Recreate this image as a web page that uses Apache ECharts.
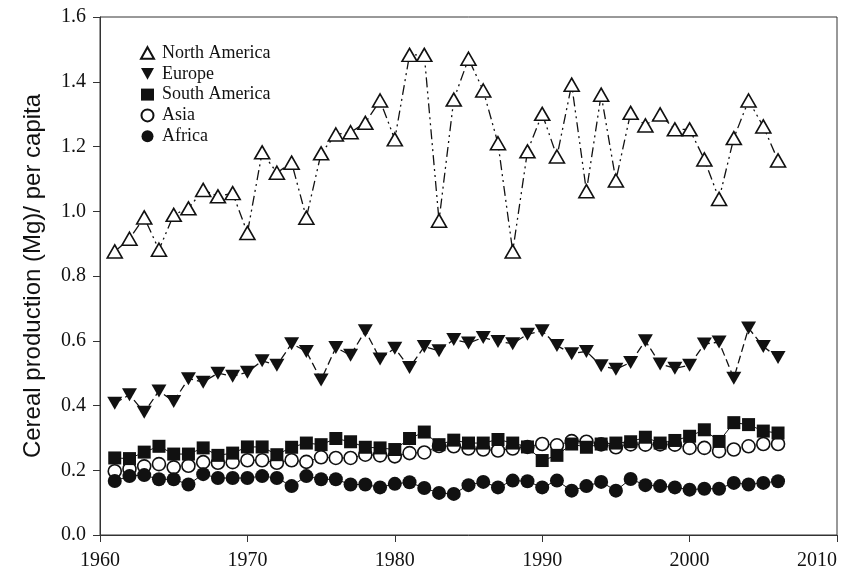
<!DOCTYPE html>
<html>
<head>
<meta charset="utf-8">
<title>Cereal production per capita</title>
<script src="https://cdn.jsdelivr.net/npm/echarts@6/dist/echarts.min.js"></script>
<style>
  html, body { margin: 0; padding: 0; background: #fff; }
  #chart { width: 858px; height: 571px; }
</style>
</head>
<body>
<div id="chart"></div>
<script>
// Years 1961-2006
var years = [];
for (var y = 1961; y <= 2006; y++) years.push(y);

// Cereal production per capita (Mg), by region
var northAmerica = [
  0.876, 0.915, 0.981, 0.881, 0.989, 1.009, 1.066, 1.046, 1.056, 0.933,
  1.182, 1.119, 1.150, 0.980, 1.179, 1.237, 1.244, 1.273, 1.342, 1.222,
  1.483, 1.483, 0.971, 1.345, 1.471, 1.373, 1.210, 0.876, 1.185, 1.301,
  1.169, 1.391, 1.062, 1.360, 1.095, 1.304, 1.265, 1.299, 1.253, 1.253,
  1.160, 1.038, 1.226, 1.342, 1.262, 1.157
];
var europe = [
  0.407, 0.433, 0.379, 0.445, 0.412, 0.483, 0.472, 0.500, 0.490, 0.503,
  0.538, 0.524, 0.591, 0.567, 0.479, 0.579, 0.555, 0.631, 0.544, 0.577,
  0.517, 0.582, 0.569, 0.604, 0.593, 0.610, 0.598, 0.591, 0.620, 0.631,
  0.585, 0.560, 0.567, 0.523, 0.512, 0.533, 0.600, 0.528, 0.515, 0.524,
  0.590, 0.596, 0.484, 0.639, 0.582, 0.548
];
var southAmerica = [
  0.238, 0.236, 0.256, 0.274, 0.250, 0.250, 0.269, 0.246, 0.253, 0.272,
  0.272, 0.248, 0.271, 0.284, 0.279, 0.298, 0.288, 0.271, 0.269, 0.264,
  0.298, 0.318, 0.279, 0.293, 0.284, 0.284, 0.295, 0.284, 0.272, 0.230,
  0.246, 0.281, 0.271, 0.281, 0.284, 0.288, 0.302, 0.284, 0.292, 0.305,
  0.325, 0.289, 0.347, 0.341, 0.321, 0.315
];
var asia = [
  0.197, 0.204, 0.212, 0.219, 0.209, 0.214, 0.225, 0.223, 0.225, 0.231,
  0.231, 0.223, 0.231, 0.226, 0.240, 0.238, 0.238, 0.248, 0.246, 0.243,
  0.253, 0.255, 0.275, 0.274, 0.267, 0.264, 0.261, 0.267, 0.272, 0.281,
  0.277, 0.290, 0.288, 0.280, 0.271, 0.280, 0.279, 0.280, 0.279, 0.269,
  0.269, 0.259, 0.264, 0.274, 0.281, 0.281
];
var africa = [
  0.167, 0.182, 0.185, 0.172, 0.172, 0.156, 0.188, 0.176, 0.176, 0.176,
  0.182, 0.176, 0.151, 0.182, 0.172, 0.172, 0.156, 0.156, 0.147, 0.158,
  0.163, 0.145, 0.130, 0.127, 0.154, 0.164, 0.147, 0.168, 0.166, 0.147,
  0.168, 0.137, 0.151, 0.164, 0.137, 0.173, 0.154, 0.151, 0.147, 0.140,
  0.143, 0.143, 0.161, 0.156, 0.161, 0.166
];

var yTicks = { min: 0, max: 1.6, interval: 0.2 };
var xTicks = { min: 1960, max: 2010, interval: 10 };

function pairs(values) {
  return years.map(function (yr, i) { return [yr, values[i]]; });
}

var INK = '#111';
var UP_TRI = 'path://M5,0 L10,9 L0,9 Z';
var DOWN_TRI = 'path://M0,0 L10,0 L5,9 Z';
var serif = '"Liberation Serif", "Times New Roman", serif';

var chart = echarts.init(document.getElementById('chart'), null, { renderer: 'canvas' });

chart.setOption({
  animation: false,
  backgroundColor: '#fff',
  grid: {
    left: 100, right: 21, top: 17, bottom: 36,
    outerBoundsMode: 'none',
    containLabel: false,
    show: true, borderColor: '#333', borderWidth: 1, backgroundColor: 'transparent'
  },
  legend: {
    orient: 'vertical',
    left: 135, top: 39,
    itemWidth: 13, itemHeight: 12,
    itemGap: 2.8,
    textStyle: { fontFamily: serif, fontSize: 18, color: INK, padding: [0, 0, 0, 3] },
    data: [
      { name: 'North America', icon: UP_TRI },
      { name: 'Europe', icon: DOWN_TRI },
      { name: 'South America', icon: 'rect' },
      { name: 'Asia', icon: 'circle' },
      { name: 'Africa', icon: 'circle' }
    ]
  },
  xAxis: {
    type: 'value',
    min: xTicks.min, max: xTicks.max, interval: xTicks.interval,
    axisLine: { lineStyle: { color: '#333', width: 1 } },
    axisTick: { inside: false, length: 7, lineStyle: { color: '#333' } },
    axisLabel: {
      fontFamily: serif, fontSize: 20, color: INK, margin: 16,
      alignMaxLabel: 'right',
      formatter: function (v) { return String(v); }
    },
    splitLine: { show: false }
  },
  yAxis: {
    type: 'value',
    min: yTicks.min, max: yTicks.max, interval: yTicks.interval,
    name: 'Cereal production (Mg)/ per capita',
    nameLocation: 'middle',
    nameGap: 55,
    nameTextStyle: { fontFamily: '"Liberation Sans", Arial, sans-serif', fontSize: 24, color: INK },
    axisLine: { lineStyle: { color: '#333', width: 1 } },
    axisTick: { inside: false, length: 7, lineStyle: { color: '#333' } },
    axisLabel: {
      fontFamily: serif, fontSize: 20, color: INK, margin: 14,
      formatter: function (v) { return v.toFixed(1); }
    },
    splitLine: { show: false }
  },
  series: [
    {
      name: 'North America', type: 'line', data: pairs(northAmerica),
      symbol: UP_TRI, symbolSize: [15, 13],
      itemStyle: { color: '#fff', borderColor: INK, borderWidth: 1.6 },
      lineStyle: { color: INK, width: 1.3, type: [10, 4, 2, 4, 2, 4] }
    },
    {
      name: 'Europe', type: 'line', data: pairs(europe),
      symbol: DOWN_TRI, symbolSize: [15, 13],
      itemStyle: { color: INK, borderColor: INK, borderWidth: 0 },
      lineStyle: { color: INK, width: 1.3, type: [8, 4] }
    },
    {
      name: 'Asia', type: 'line', data: pairs(asia),
      symbol: 'circle', symbolSize: 13,
      itemStyle: { color: '#fff', borderColor: INK, borderWidth: 1.6 },
      lineStyle: { color: INK, width: 1, type: [2, 3] }
    },
    {
      name: 'South America', type: 'line', data: pairs(southAmerica),
      symbol: 'rect', symbolSize: 13,
      itemStyle: { color: INK, borderColor: INK, borderWidth: 0 },
      lineStyle: { color: INK, width: 1 }
    },
    {
      name: 'Africa', type: 'line', data: pairs(africa),
      symbol: 'circle', symbolSize: 14,
      itemStyle: { color: INK, borderColor: INK, borderWidth: 0 },
      lineStyle: { color: INK, width: 1 }
    }
  ]
});
</script>
</body>
</html>
